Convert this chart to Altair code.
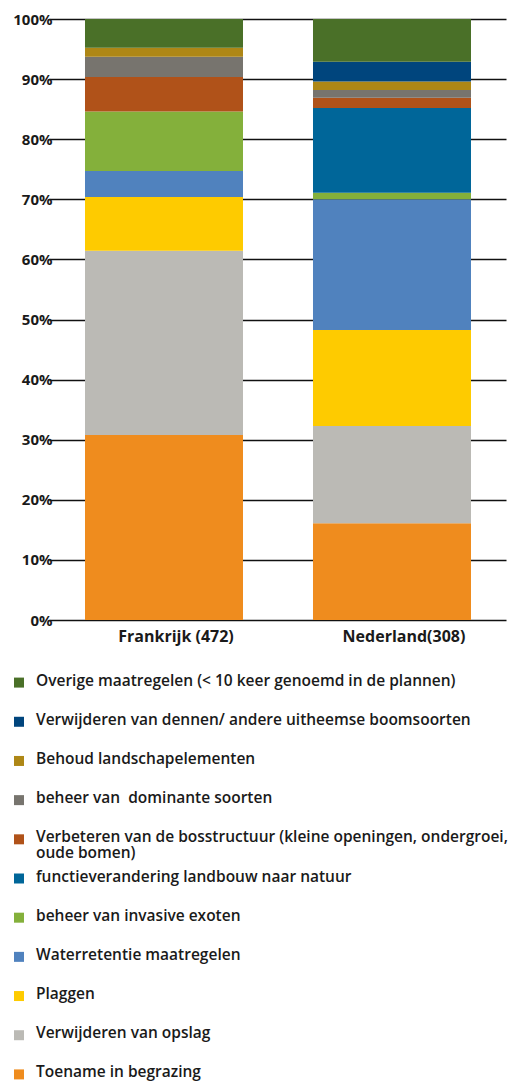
import altair as alt
import pandas as pd

# stacking order, bottom to top
categories = [
    "Toename in begrazing",
    "Verwijderen van opslag",
    "Plaggen",
    "Waterretentie maatregelen",
    "beheer van invasive exoten",
    "functieverandering landbouw naar natuur",
    "Verbeteren van de bosstructuur (kleine openingen, ondergroei, oude bomen)",
    "beheer van  dominante soorten",
    "Behoud landschapelementen",
    "Verwijderen van dennen/ andere uitheemse boomsoorten",
    "Overige maatregelen (< 10 keer genoemd in de plannen)",
]
legend_text = [
    "Toename in begrazing",
    "Verwijderen van opslag",
    "Plaggen",
    "Waterretentie maatregelen",
    "beheer van invasive exoten",
    "functieverandering landbouw naar natuur",
    "Verbeteren van de bosstructuur (kleine openingen, ondergroei,\noude bomen)",
    "beheer van\u00a0 dominante soorten",
    "Behoud landschapelementen",
    "Verwijderen van dennen/ andere uitheemse boomsoorten",
    "Overige maatregelen (< 10 keer genoemd in de plannen)",
]
colors = [
    "#EF8C1E", "#BBBAB5", "#FECB00", "#5082BE", "#84B03B", "#006699",
    "#B05219", "#77746E", "#AE8716", "#00457D", "#4A7028",
]
countries = ["Frankrijk (472)", "Nederland(308)"]
frankrijk = [30.8, 30.65, 8.95, 4.3, 9.9, 0.0, 5.75, 3.35, 1.5, 0.0, 4.8]
nederland = [16.1, 16.2, 15.95, 21.75, 1.1, 14.1, 1.7, 1.3, 1.4, 3.3, 7.1]
y_ticks = list(range(0, 101, 10))

rows = []
for country, vals in zip(countries, [frankrijk, nederland]):
    for i, (cat, v) in enumerate(zip(categories, vals)):
        rows.append({"land": country, "maatregel": cat, "idx": i, "pct": v})
df = pd.DataFrame(rows)

leg = pd.DataFrame({
    "maatregel": categories,
    "tekst": legend_text,
    "pos": [len(categories) - 1 - i for i in range(len(categories))],
})

FONT = "Open Sans"
color_scale = alt.Scale(domain=categories, range=colors)

bars = alt.Chart(df).mark_bar().encode(
    x=alt.X("land:N", sort=countries, title=None,
            scale=alt.Scale(paddingInner=0.307, paddingOuter=0.1557, align=0.507),
            axis=alt.Axis(labelAngle=0, ticks=False, domain=False, labelPadding=8,
                          labelOffset=12,
                          labelFontSize=16, labelFontWeight="bold", labelColor="#1a1a1a",
                          labelFont=FONT)),
    y=alt.Y("pct:Q", stack="zero", title=None,
            scale=alt.Scale(domain=[0, 100], nice=False),
            axis=alt.Axis(values=y_ticks, labelExpr="datum.value + '%'", domain=False,
                          ticks=False, tickSize=0, labelPadding=-3, grid=True,
                          gridColor="#111111", gridWidth=1.3, gridOpacity=1,
                          labelFontSize=15, labelFontWeight="bold", labelColor="#1a1a1a",
                          labelFont=FONT)),
    color=alt.Color("maatregel:N", scale=color_scale, legend=None),
    order=alt.Order("idx:Q", sort="ascending"),
).properties(width=457, height=601)

leg_base = alt.Chart(leg).encode(
    y=alt.Y("pos:O", axis=None,
            scale=alt.Scale(paddingInner=0, paddingOuter=0)),
)
squares = leg_base.mark_square(size=100, opacity=1).encode(
    x=alt.value(-30),
    color=alt.Color("maatregel:N", scale=color_scale, legend=None),
)
labels = leg_base.mark_text(
    align="left", baseline="top", dy=-9, lineBreak="\n", lineHeight=16,
    fontSize=15.5, fontWeight=600, font=FONT, color="#1a1a1a",
).encode(x=alt.value(-13), text="tekst:N")
legend_chart = (squares + labels).properties(width=457, height=431)

chart = alt.vconcat(bars, legend_chart, spacing=19).properties(
    padding={"left": 4, "top": 4, "right": 0, "bottom": 0}
).configure_view(stroke=None)

chart.save("out.html", embed_options={"renderer": "svg", "actions": False})
